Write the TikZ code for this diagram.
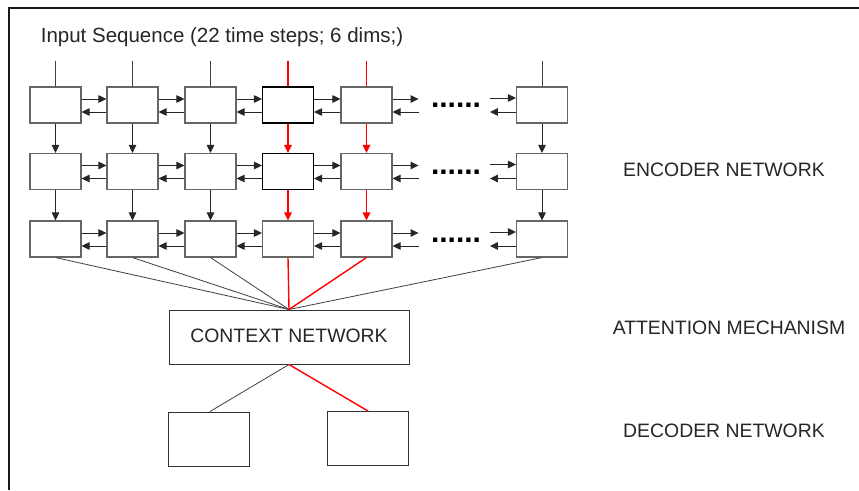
\documentclass[tikz,border=0pt]{standalone}
\usepackage{fontspec}
\setmainfont{Liberation Sans}
\usetikzlibrary{calc,arrows.meta}
\begin{document}
\begin{tikzpicture}[x=1pt,y=-1pt,
  cell/.style={draw=black!60,line width=1.1pt,fill=white,minimum width=51pt,minimum height=36pt,inner sep=0pt},
  boldcell/.style={cell,draw=black,line width=1.7pt},
  dec/.style={draw=black!80,line width=1pt,minimum width=81pt,minimum height=54pt,inner sep=0pt},
  conn/.style={draw=black!75,line width=0.8pt},
  rconn/.style={draw=red,line width=1.4pt},
  arr/.style={draw=black!85,line width=0.9pt,-{Triangle[length=8pt,width=7.5pt]}},
  rarr/.style={draw=red,line width=1.4pt,-{Triangle[length=8pt,width=7.5pt]}},
  lbl/.style={font=\fontsize{19.4}{22}\selectfont,text=black!85,inner sep=0pt},
  dots/.style={font=\fontsize{30}{30}\selectfont\bfseries,inner sep=0pt}
]
\useasboundingbox (0,0) rectangle (859,490);
\fill[white] (0,0) rectangle (859,490);
% frame
\coordinate (fbl) at (9,490);
\coordinate (ftl) at (9,7.5);
\coordinate (ftr) at (859,7.5);
\draw[line width=2pt,black!90] (fbl) -- (ftl) -- (ftr);

\node[lbl,font=\fontsize{20.5}{22}\selectfont] (title) at (222,37) {Input Sequence (22 time steps; 6 dims;)};

% cells
\foreach \c/\x in {1/55.5,2/132.5,3/210.5,4/288,5/366.5,6/542}{
  \foreach \r/\y in {1/105,2/171.5,3/239}{
    \node[cell] (n\r\c) at (\x,\y) {};
  }
}
\node[boldcell] at (n14) {};
\node[boldcell] at (n24) {};

% input lines
\foreach \c/\x in {1/55.5,2/132.5,3/210.5,6/542}{
  \coordinate (in\c) at (\x,61);
  \draw[conn] (in\c) -- (n1\c.north);
}
\foreach \c/\x in {4/288,5/366.5}{
  \coordinate (in\c) at (\x,61);
  \draw[rconn] (in\c) -- (n1\c.north);
}

% vertical arrows
\foreach \c in {1,2,3,6}{
  \draw[arr] (n1\c.south) -- (n2\c.north);
  \draw[arr] (n2\c.south) -- (n3\c.north);
}
\foreach \c in {4,5}{
  \draw[rarr] (n1\c.south) -- (n2\c.north);
  \draw[rarr] (n2\c.south) -- (n3\c.north);
}

% horizontal arrows
\foreach \r in {1,2,3}{
  \foreach \a/\b in {1/2,2/3,3/4,4/5}{
    \draw[arr] ($(n\r\a.east)+(0,-6)$) -- ($(n\r\b.west)+(0,-6)$);
    \draw[arr] ($(n\r\b.west)+(0,7)$) -- ($(n\r\a.east)+(0,7)$);
  }
  \coordinate (o\r) at ($(n\r5.east)+(26,0)$);
  \coordinate (p\r) at ($(n\r6.west)+(-26,0)$);
  \draw[arr] ($(n\r5.east)+(0,-6)$) -- ($(o\r)+(0,-6)$);
  \draw[arr] ($(o\r)+(0,7)$) -- ($(n\r5.east)+(0,7)$);
  \draw[arr] ($(p\r)+(0,-7)$) -- ($(n\r6.west)+(0,-7)$);
  \draw[arr] ($(n\r6.west)+(0,7)$) -- ($(p\r)+(0,7)$);
}
\node[dots] (d1) at (456,105) {......};
\node[dots] (d2) at (456,172) {......};
\node[dots] (d3) at (456,240) {......};

% context
\node[draw=black!80,line width=1pt,minimum width=240pt,minimum height=54pt,inner sep=0pt] (ctx) at (289,337) {};
\node[lbl] (ctxt) at (289,336) {CONTEXT NETWORK};

\foreach \c in {1,2,3,6}{
  \draw[conn] (n3\c.south) -- (ctx.north);
}
\draw[rconn] (n34.south) -- (ctx.north);
\draw[rconn] (n35.south) -- (ctx.north);

% decoder
\node[dec] (d1b) at (208.5,439) {};
\node[dec] (d2b) at (368,438.5) {};
\draw[conn] (ctx.south) -- ($(d1b.north)+(1.5,0)$);
\draw[rconn] (ctx.south) -- (d2b.north);

% labels
\node[lbl] (enc) at (724,170) {ENCODER NETWORK};
\node[lbl] (att) at (729,328) {ATTENTION MECHANISM};
\node[lbl] (decl) at (724,431) {DECODER NETWORK};
\end{tikzpicture}
\end{document}
